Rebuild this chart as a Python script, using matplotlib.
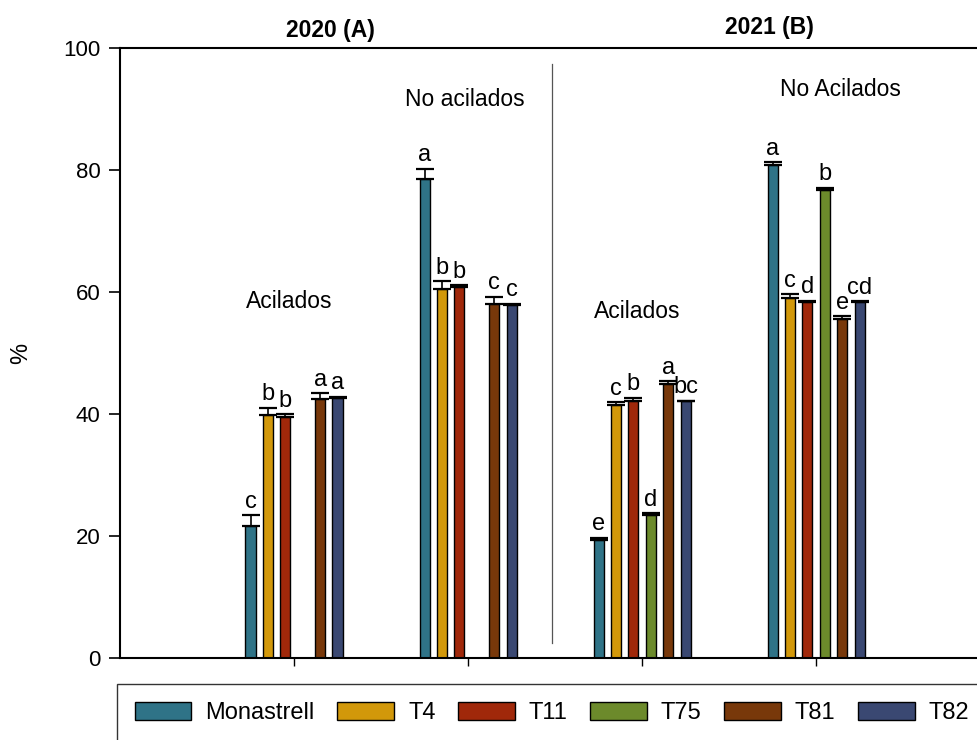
import numpy as np
import matplotlib
matplotlib.use("Agg")
import matplotlib.pyplot as plt
from matplotlib.patches import Patch

plt.rcParams['font.family'] = ['Liberation Sans', 'DejaVu Sans']

# grupos: 2020 acilados, 2020 no acilados, 2021 acilados, 2021 no acilados
grupos = ["Acilados", "No acilados", "Acilados", "No Acilados"]
series = ["Monastrell", "T4", "T11", "T75", "T81", "T82"]
colores = ["#2f7387", "#d2980a", "#a0280a", "#6c8a2b", "#78380a", "#3a4872"]

# medias (%) por serie, NaN = sin dato
medias = {
    "Monastrell": [21.6, 78.5, 19.3, 80.8],
    "T4":         [39.8, 60.5, 41.4, 59.0],
    "T11":        [39.5, 60.8, 42.2, 58.3],
    "T75":        [np.nan, np.nan, 23.4, 76.7],
    "T81":        [42.5, 58.1, 45.0, 55.6],
    "T82":        [42.6, 57.9, 42.1, 58.3],
}
# error estandar
errores = {
    "Monastrell": [1.8, 1.7, 0.4, 0.5],
    "T4":         [1.2, 1.3, 0.5, 0.6],
    "T11":        [0.5, 0.3, 0.5, 0.3],
    "T75":        [np.nan, np.nan, 0.3, 0.4],
    "T81":        [0.9, 1.1, 0.4, 0.4],
    "T82":        [0.2, 0.2, 0.1, 0.2],
}
letras = {
    "Monastrell": ["c", "a", "e", "a"],
    "T4":         ["b", "b", "c", "c"],
    "T11":        ["b", "b", "b", "d"],
    "T75":        ["", "", "d", "b"],
    "T81":        ["a", "c", "a", "e"],
    "T82":        ["a", "c", "bc", "cd"],
}
# posicion de los rotulos de grupo (x, y en datos)
rotulos_x = [-0.03, 0.98, 1.97, 3.14]
rotulos_y = [58.5, 91.5, 56.8, 93.2]

fig = plt.figure(figsize=(9.78, 7.4), dpi=100)
ax = fig.add_axes([0.1227, 0.1108, 0.8773, 0.8243])

x = np.arange(len(grupos))
ancho = 0.058
paso = 0.1
for i, s in enumerate(series):
    xs = x + (i - 2.5) * paso
    y = np.array(medias[s])
    e = np.array(errores[s])
    ax.bar(xs, y, ancho, color=colores[i], edgecolor="black", linewidth=1.0, zorder=2)
    ax.errorbar(xs, y, yerr=[np.zeros_like(e), e], fmt="none", ecolor="black",
                elinewidth=1.2, capsize=6.5, capthick=1.6, zorder=3)
    for xi, yi, ei, l in zip(xs, y, e, letras[s]):
        if np.isnan(yi):
            continue
        ax.text(xi, yi + ei + 0.4, l, ha="center", va="bottom", fontsize=17)

for gx, gy, g in zip(rotulos_x, rotulos_y, grupos):
    ax.text(gx, gy, g, ha="center", va="center", fontsize=16.5)

# separacion entre campañas
ax.plot([1.48, 1.48], [2.5, 97.4], color="#555555", linewidth=0.9)

ax.set_xlim(-1, 3.93)
ax.set_ylim(0, 100)
ax.set_yticks([0, 20, 40, 60, 80, 100])
ax.set_xticks(x)
ax.set_xticklabels([])
ax.tick_params(axis="y", direction="out", length=8, width=1.2, labelsize=16, pad=6)
ax.tick_params(axis="x", direction="out", length=6, width=1.0)
ax.spines["right"].set_visible(False)
for sp in ["left", "bottom", "top"]:
    ax.spines[sp].set_linewidth(1.5)
ax.set_ylabel("%", fontsize=17)
ax.yaxis.set_label_coords(-0.102, 0.5)

fig.text(0.3375, 0.959, "2020 (A)", ha="center", va="center", fontsize=16.5, fontweight="bold")
fig.text(0.787, 0.963, "2021 (B)", ha="center", va="center", fontsize=16.5, fontweight="bold")

manejadores = [Patch(facecolor=c, edgecolor="black", linewidth=1.0) for c in colores]
leg = fig.legend(manejadores, series, loc="upper left", bbox_to_anchor=(0.1196, 0.0757),
                 ncol=6, fontsize=17, frameon=True, fancybox=False, edgecolor="black",
                 handlelength=2.4, handleheight=0.8, handletextpad=0.6,
                 columnspacing=0.95, borderpad=0.75, borderaxespad=0)
leg.get_frame().set_linewidth(1.0)

fig.savefig("out.png", dpi=100)
